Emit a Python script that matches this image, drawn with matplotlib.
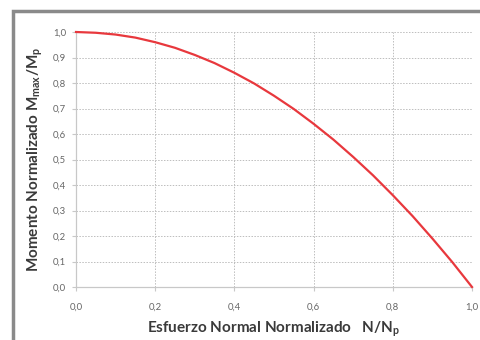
import matplotlib
matplotlib.use("Agg")
import matplotlib.pyplot as plt
from matplotlib.patches import Rectangle

n_ratio = [0.0, 0.05, 0.10, 0.15, 0.20, 0.25, 0.30, 0.35, 0.40, 0.45, 0.50,
           0.55, 0.60, 0.65, 0.70, 0.75, 0.80, 0.85, 0.90, 0.95, 1.0]
m_ratio = [1.0, 0.997, 0.99, 0.978, 0.96, 0.938, 0.91, 0.878, 0.84, 0.798, 0.75,
           0.698, 0.64, 0.578, 0.51, 0.438, 0.36, 0.278, 0.19, 0.098, 0.0]
ticks = [0.0, 0.2, 0.4, 0.6, 0.8, 1.0]
yticks = [0.0, 0.1, 0.2, 0.3, 0.4, 0.5, 0.6, 0.7, 0.8, 0.9, 1.0]

plt.rcParams['font.family'] = ['Lato', 'DejaVu Sans']
fig = plt.figure(figsize=(4.8, 3.4), dpi=100)
fig.patch.set_facecolor('white')

# outer frame (gray)
fig.patches.append(Rectangle((13/480, -0.2), 1.2, 1 - 11/340 + 0.2, transform=fig.transFigure,
                             fill=False, edgecolor='#8a8a8a', linewidth=2.5, zorder=0))

ax = fig.add_axes([76/480, 1 - 287/340, (472 - 76)/480, (287 - 32)/340])
ax.plot(n_ratio, m_ratio, color='#e8383d', linewidth=1.6, zorder=3, clip_on=False)
ax.set_xlim(0, 1)
ax.set_ylim(0, 1)
ax.set_xticks(ticks)
ax.set_yticks(yticks)
ax.set_xticklabels([f"{t:.1f}".replace('.', ',') for t in ticks])
ax.set_yticklabels([f"{t:.1f}".replace('.', ',') for t in yticks])
ax.grid(True, color='#bdbdbd', linestyle=(0, (1.5, 1.5)), linewidth=0.7)
for s in ['top', 'right']:
    ax.spines[s].set_visible(False)
for s in ['left', 'bottom']:
    ax.spines[s].set_color('#c8c8c8')
    ax.spines[s].set_linewidth(0.9)
ax.tick_params(axis='both', colors='#c8c8c8', labelcolor='#666666', labelsize=6.8,
               length=3, width=0.8)
ax.tick_params(axis='x', pad=8)
ax.tick_params(axis='y', pad=4)
ax.set_xlabel('Esfuerzo Normal Normalizado   N/N$_\\mathregular{p}$', fontsize=11,
              fontweight='bold', color='#3a3a3a', labelpad=6)
ax.set_ylabel('Momento Normalizado M$_\\mathregular{max}$/M$_\\mathregular{p}$', fontsize=11,
              fontweight='bold', color='#3a3a3a', labelpad=6)

fig.savefig('out.png', dpi=100)
